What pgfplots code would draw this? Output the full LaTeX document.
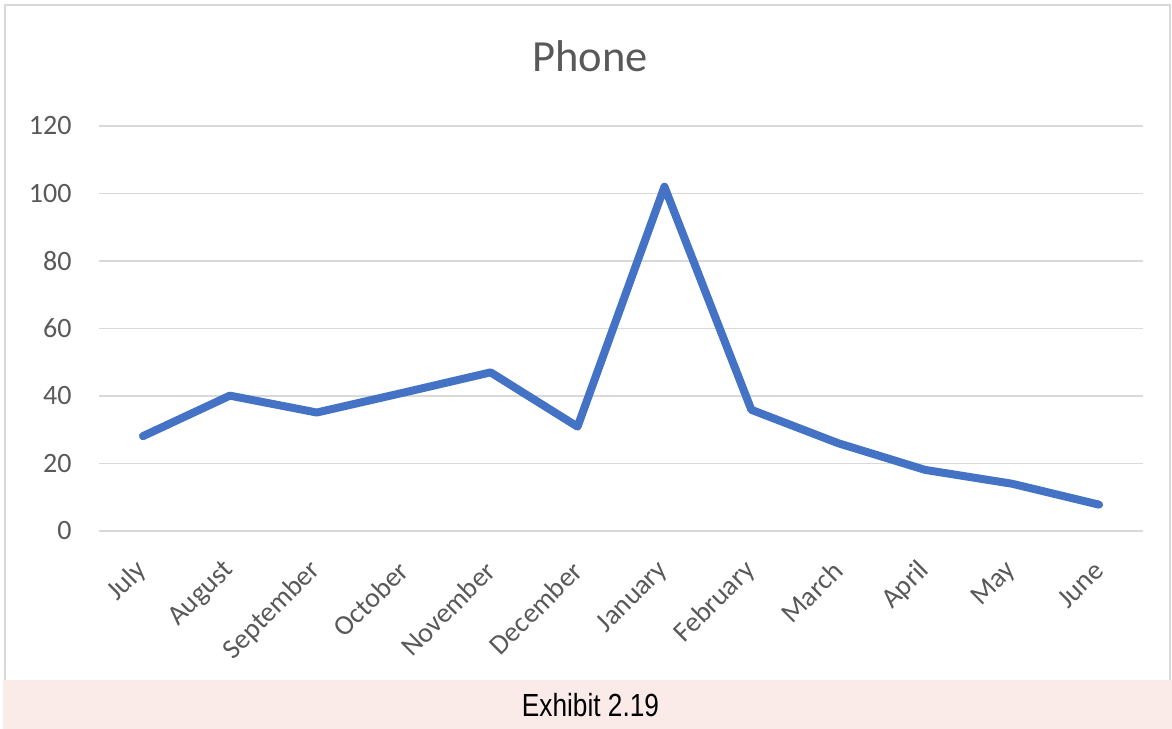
\documentclass[border=0pt]{standalone}
\usepackage{pgfplots}
\pgfplotsset{compat=1.18}
\usepackage{fontspec}
\setmainfont{Carlito}
\newfontfamily\narrow[FakeStretch=0.82]{Liberation Sans}
\definecolor{linecol}{HTML}{4472C4}
\definecolor{gridcol}{HTML}{D9D9D9}
\definecolor{txtcol}{HTML}{595959}
\definecolor{footcol}{HTML}{FAEBE8}
\definecolor{bordcol}{HTML}{D9D9D9}
\begin{document}
\begin{tikzpicture}
\useasboundingbox (0pt,0pt) rectangle (468.8pt,291.6pt);
\fill[white] (0pt,0pt) rectangle (468.8pt,291.6pt);
\draw[bordcol, line width=0.8pt] (2pt,19.6pt) -- (2pt,289.6pt) -- (468pt,289.6pt) -- (468pt,19.6pt);
\fill[footcol] (1.2pt,0pt) rectangle (468.8pt,19.6pt);
\node[anchor=base, inner sep=0pt, text=black] at (236.2pt,4.8pt) {\fontsize{12.8pt}{14pt}\selectfont\narrow Exhibit 2.19};
\node[anchor=base, inner sep=0pt, text=txtcol] at (236pt,262.8pt) {\fontsize{17.8pt}{20pt}\selectfont Phone};
\begin{axis}[
  at={(39.8pt,79.2pt)}, anchor=south west,
  scale only axis, width=417.2pt, height=162pt,
  xmin=-0.5, xmax=11.5, ymin=0, ymax=120,
  xtick={0,...,11},
  xticklabels={July,August,September,October,November,December,January,February,March,April,May,June},
  ytick={0,20,40,60,80,100,120},
  /pgf/number format/assume math mode=true,
  axis line style={draw=none},
  major tick length=0pt,
  tick style={draw=none},
  ymajorgrids,
  grid style={gridcol, line width=0.75pt},
  ticklabel style={text=txtcol, font=\fontsize{11.2pt}{13pt}\selectfont},
  yticklabel style={anchor=east, inner sep=0pt, xshift=-11pt},
  xticklabel style={rotate=45, anchor=east, inner sep=0pt},
  xticklabel shift=14pt,
  clip=false,
]
\addplot[linecol, line width=3.2pt, line join=round, line cap=round] coordinates {
 (0,28.1) (1,40.1) (2,35.1) (3,41) (4,47) (5,30.9) (6,102) (7,35.9) (8,26) (9,18.1) (10,14) (11,7.8)
};
\end{axis}
\end{tikzpicture}
\end{document}
